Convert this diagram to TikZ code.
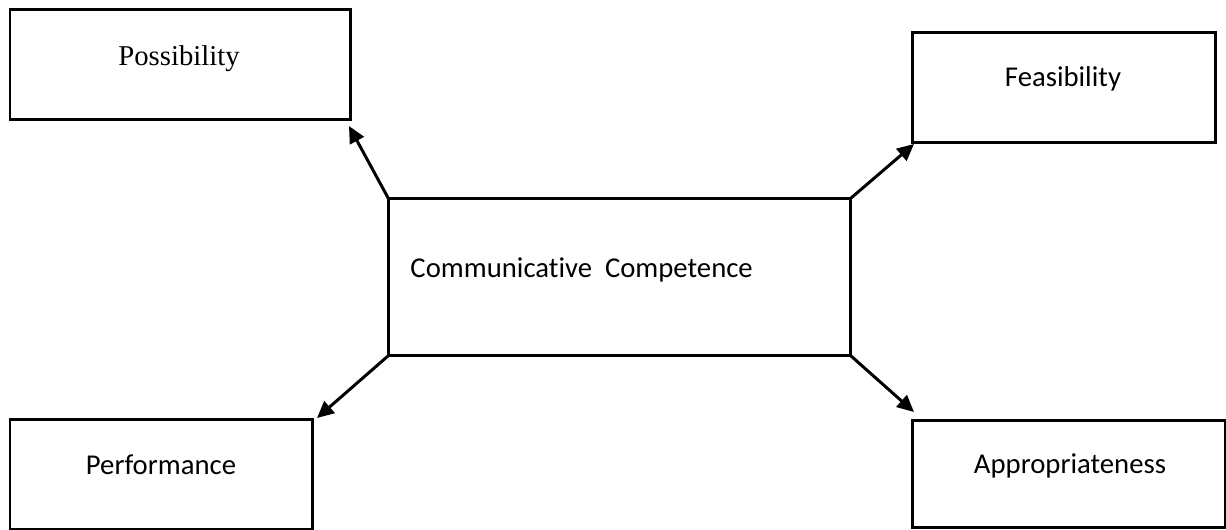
\documentclass[tikz,border=0pt]{standalone}
\usepackage{fontspec}
\setmainfont{Liberation Serif}
\newfontfamily\calib[Ligatures=NoCommon]{Carlito}
\usetikzlibrary{arrows.meta}
\tikzset{
  box/.style={draw, line width=1.25pt, inner sep=0pt, outer sep=0pt},
  lbl/.style={anchor=base, inner sep=0pt, font=\calib\fontsize{12}{14}\selectfont},
  link/.style={line width=1.25pt, -{Triangle[length=7pt,width=6.5pt]}}
}
\begin{document}
\begin{tikzpicture}[x=0.418pt, y=-0.418pt]
\useasboundingbox (0,0) rectangle (1226,529);
\begin{scope}
\clip (0,0) rectangle (1226,529);
% boxes
\node[box, minimum width=340*0.418pt, minimum height=109.5*0.418pt] (poss) at (180,64.25) {};
\node[box, minimum width=302.7*0.418pt, minimum height=110.3*0.418pt] (feas) at (1063.65,87.15) {};
\node[box, minimum width=462.4*0.418pt, minimum height=157.4*0.418pt] (cc) at (619.5,277) {};
\node[box, minimum width=302.7*0.418pt, minimum height=110*0.418pt] (perf) at (161.35,474.3) {};
\node[box, minimum width=312.7*0.418pt, minimum height=107*0.418pt] (appr) at (1068.65,473.5) {};
\end{scope}
% labels
\node[lbl, font=\fontsize{12}{14}\selectfont] (tposs) at (179,65) {Possibility};
\node[lbl] (tfeas) at (1063,86) {Feasibility};
\node[lbl, anchor=base west] (tcc) at (410,277) {Communicative\ \ Competence};
\node[lbl] (tperf) at (161,474) {Performance};
\node[lbl] (tappr) at (1070,473) {Appropriateness};
% arrow tips
\coordinate (a1) at (349,126);
\coordinate (a2) at (914,144);
\coordinate (a3) at (317,418);
\coordinate (a4) at (914,412);
% connectors
\draw[link] (cc.north west) -- (a1);
\draw[link] (cc.north east) -- (a2);
\draw[link] (cc.south west) -- (a3);
\draw[link] (cc.south east) -- (a4);
\end{tikzpicture}
\end{document}
